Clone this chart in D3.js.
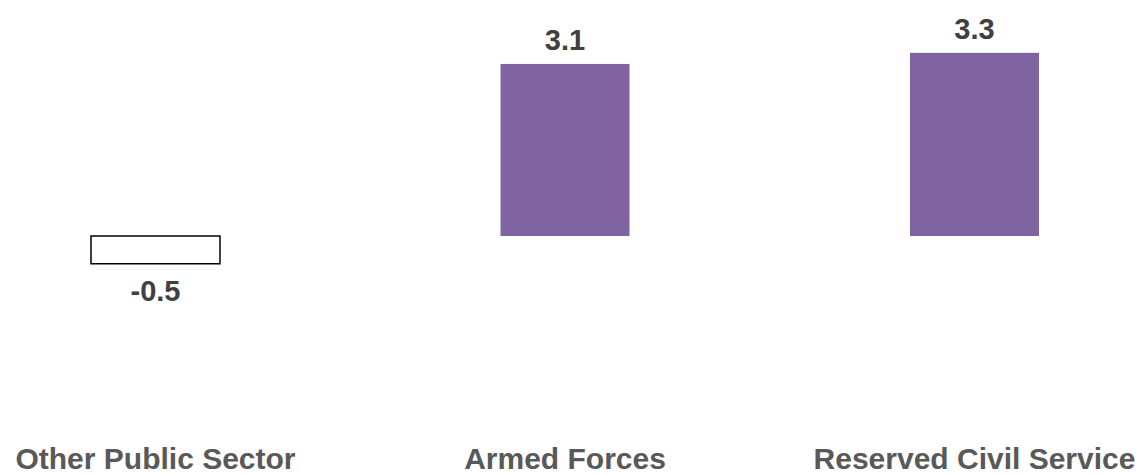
<!DOCTYPE html>
<html>
<head>
<meta charset="utf-8">
<script src="https://cdn.jsdelivr.net/npm/d3@7"></script>
<style>
  html, body { margin: 0; padding: 0; background: #fff; }
  svg { display: block; }
</style>
</head>
<body>
<svg id="chart" width="1146" height="475"></svg>
<script>
// chart data
const categories = ["Other Public Sector", "Armed Forces", "Reserved Civil Service"];
const values = [-0.5, 3.1, 3.3];
const valueLabels = ["-0.5", "3.1", "3.3"];

const W = 1146, H = 475;
const svg = d3.select("#chart");

let x = d3.scaleBand()
  .domain(categories)
  .range([-49.25, 1179.25])
  .paddingInner(0.685)
  .paddingOuter(0.3425);

let y = d3.scaleLinear()
  .domain([-1, 3.5])
  .range([291.5, 41.75]);

let rows = categories.map((c, i) => ({cat: c, v: values[i], label: valueLabels[i]}));

// bars
svg.append("g").selectAll("rect")
  .data(rows)
  .join("rect")
  .attr("x", d => x(d.cat))
  .attr("width", x.bandwidth())
  .attr("y", d => y(Math.max(0, d.v)))
  .attr("height", d => Math.abs(y(d.v) - y(0)))
  .attr("fill", d => d.v < 0 ? "#ffffff" : "#8064A2")
  .attr("stroke", d => d.v < 0 ? "#000000" : "none")
  .attr("stroke-width", 1.5);

// value labels
svg.append("g").selectAll("text")
  .data(rows)
  .join("text")
  .attr("x", d => x(d.cat) + x.bandwidth() / 2)
  .attr("y", d => d.v < 0 ? y(d.v) + 37 : y(d.v) - 14)
  .attr("text-anchor", "middle")
  .style("font-family", "'Liberation Sans', Arial, sans-serif")
  .style("font-weight", "bold")
  .style("font-size", "29px")
  .style("fill", "#404040")
  .text(d => d.label);

// category axis labels
let xAxis = d3.axisBottom(x).tickSize(0).tickPadding(0);
let gx = svg.append("g")
  .attr("transform", `translate(0,${H - 26})`)
  .call(xAxis);
gx.select(".domain").remove();
gx.selectAll("text")
  .attr("dy", null)
  .attr("y", 20)
  .style("font-family", "'Liberation Sans', Arial, sans-serif")
  .style("font-weight", "bold")
  .style("font-size", "30px")
  .style("fill", "#595959");
</script>
</body>
</html>
